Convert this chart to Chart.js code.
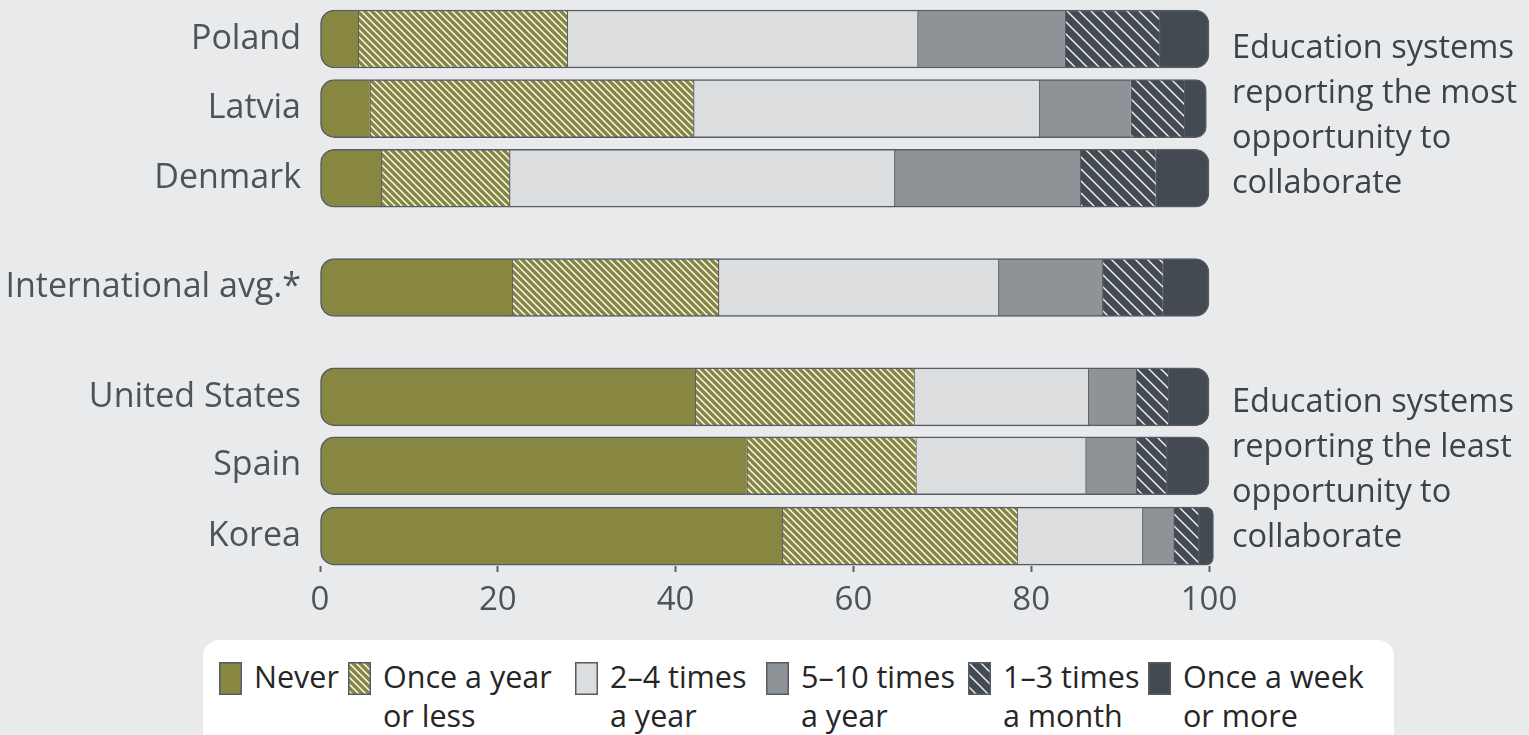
<!DOCTYPE html>
<html>
<head>
<meta charset="utf-8">
<title>Opportunity to collaborate</title>
<script src="https://cdn.jsdelivr.net/npm/chart.js@4.4.1/dist/chart.umd.min.js"></script>
<style>
  html, body { margin: 0; padding: 0; background: #e9eaec; width: 1529px; height: 735px; overflow: hidden; font-family: "Open Sans", sans-serif; }
  #wrap { position: relative; width: 1529px; height: 735px; }
  #chart { position: absolute; left: 0; top: 0; }
  .note { position: absolute; left: 1232px; font-size: 32.5px; line-height: 45px; color: #3d4349; white-space: nowrap; }
  #legend { position: absolute; left: 203px; top: 640px; width: 1191px; height: 120px; background: #ffffff; border-radius: 16px; }
  .item { position: absolute; top: 0; }
  .item canvas { position: absolute; top: 22px; left: 0; }
  .item span { position: absolute; top: 17px; left: 35px; font-size: 30.5px; line-height: 39px; color: #262626; white-space: nowrap; }
</style>
</head>
<body>
<div id="wrap">
  <canvas id="chart" width="1529" height="630"></canvas>
  <div class="note" style="top:23px">Education systems<br>reporting the most<br>opportunity to<br>collaborate</div>
  <div class="note" style="top:377px">Education systems<br>reporting the least<br>opportunity to<br>collaborate</div>
  <div id="legend"></div>
</div>
<script>
// Education systems, top to bottom
const categories = ['Poland', 'Latvia', 'Denmark', 'International avg.*', 'United States', 'Spain', 'Korea'];

// Response categories (legend text, one entry per line)
const seriesLabels = [
  ['Never'],
  ['Once a year', 'or less'],
  ['2\u20134 times', 'a year'],
  ['5\u201310 times', 'a year'],
  ['1\u20133 times', 'a month'],
  ['Once a week', 'or more']
];

// Percentage of teachers in each response category
const never        = [4.3, 5.6, 6.9, 21.6, 42.2, 48.0, 52.0];
const onceAYear    = [23.5, 36.4, 14.4, 23.2, 24.6, 19.0, 26.4];
const twoToFour    = [39.4, 38.9, 43.3, 31.5, 19.6, 19.1, 14.1];
const fiveToTen    = [16.6, 10.3, 20.9, 11.7, 5.4, 5.7, 3.5];
const monthly      = [10.6, 6.0, 8.5, 6.8, 3.6, 3.4, 2.8];
const weekly       = [5.6, 2.5, 6.0, 5.2, 4.6, 4.8, 1.7];

const xTickValues = [0, 20, 40, 60, 80, 100];

const series = [never, onceAYear, twoToFour, fiveToTen, monthly, weekly];

// Layout: vertical slot of each row (groups separated by wider gaps)
const rowSlots = [0, 1, 2, 3.57, 5.14, 6.13, 7.14];

// Diagonal hatch ("\") pattern
function hatch(bg, line, period, width) {
  const c = document.createElement('canvas');
  c.width = c.height = period;
  const g = c.getContext('2d');
  g.fillStyle = bg;
  g.fillRect(0, 0, period, period);
  g.strokeStyle = line;
  g.lineWidth = width;
  g.beginPath();
  for (let k = -1; k <= 1; k++) {
    g.moveTo(-period, -period + k * period);
    g.lineTo(2 * period, 2 * period + k * period);
  }
  g.stroke();
  return g.createPattern(c, 'repeat');
}

const olive = '#878741';
const slate = '#434a52';
const fills = [
  olive,
  hatch(olive, '#ffffff', 7, 1.4),
  '#dcdddf',
  '#8e9397',
  hatch(slate, '#f2f2f2', 12, 1.4),
  slate
];
const edge = '#555c64';
const radius = 14;
const last = series.length - 1;

new Chart(document.getElementById('chart'), {
  type: 'bar',
  data: {
    datasets: series.map((vals, s) => ({
      label: seriesLabels[s].join(' '),
      data: vals.map((v, i) => ({ x: v, y: rowSlots[i] })),
      backgroundColor: fills[s],
      borderColor: edge,
      borderWidth: { top: 1.5, bottom: 1.5, left: s === 0 ? 1.5 : 1.2, right: s === last ? 1.5 : 0 },
      borderSkipped: false,
      borderRadius: s === 0
        ? { topLeft: radius, bottomLeft: radius, topRight: 0, bottomRight: 0 }
        : s === last
          ? { topLeft: 0, bottomLeft: 0, topRight: radius, bottomRight: radius }
          : 0,
      barThickness: 58,
      clip: false
    }))
  },
  options: {
    indexAxis: 'y',
    responsive: false,
    animation: false,
    devicePixelRatio: 1,
    layout: { padding: { left: 0, right: 320, top: 0, bottom: 0 } },
    plugins: { legend: { display: false }, tooltip: { enabled: false } },
    scales: {
      x: {
        type: 'linear',
        stacked: true,
        min: 0,
        max: 100,
        afterBuildTicks: s => { s.ticks = xTickValues.map(v => ({ value: v })); },
        grid: { drawOnChartArea: false, drawTicks: true, tickLength: 6, tickColor: '#5a6068', tickWidth: 2 },
        border: { display: false },
        ticks: { font: { family: 'Open Sans', size: 33 }, color: '#4c535a', padding: 9, maxRotation: 0 },
        afterFit: s => { s.height = 64; s.paddingLeft = 0; s.paddingRight = 0; }
      },
      y: {
        type: 'linear',
        stacked: true,
        reverse: true,
        offset: false,
        min: -0.56,
        max: 7.57,
        afterBuildTicks: s => { s.ticks = rowSlots.map(v => ({ value: v })); },
        grid: { display: false },
        border: { display: false },
        ticks: {
          autoSkip: false,
          font: { family: 'Open Sans', size: 34 },
          color: '#4c535a',
          padding: 11,
          callback: (v, i) => categories[i]
        },
        afterFit: s => { s.width = 320; s.paddingTop = 0; s.paddingBottom = 0; }
      }
    }
  }
});

// Legend
const legendX = [16, 145, 372, 563, 765, 945];
const legend = document.getElementById('legend');
seriesLabels.forEach((lines, s) => {
  const item = document.createElement('div');
  item.className = 'item';
  item.style.left = legendX[s] + 'px';
  const sw = document.createElement('canvas');
  sw.width = 23; sw.height = 33;
  const g = sw.getContext('2d');
  g.fillStyle = fills[s];
  g.fillRect(0, 0, 23, 33);
  g.strokeStyle = edge;
  g.lineWidth = 1.5;
  g.strokeRect(0.75, 0.75, 21.5, 31.5);
  const txt = document.createElement('span');
  txt.innerHTML = lines.join('<br>');
  item.appendChild(sw);
  item.appendChild(txt);
  legend.appendChild(item);
});
</script>
</body>
</html>
